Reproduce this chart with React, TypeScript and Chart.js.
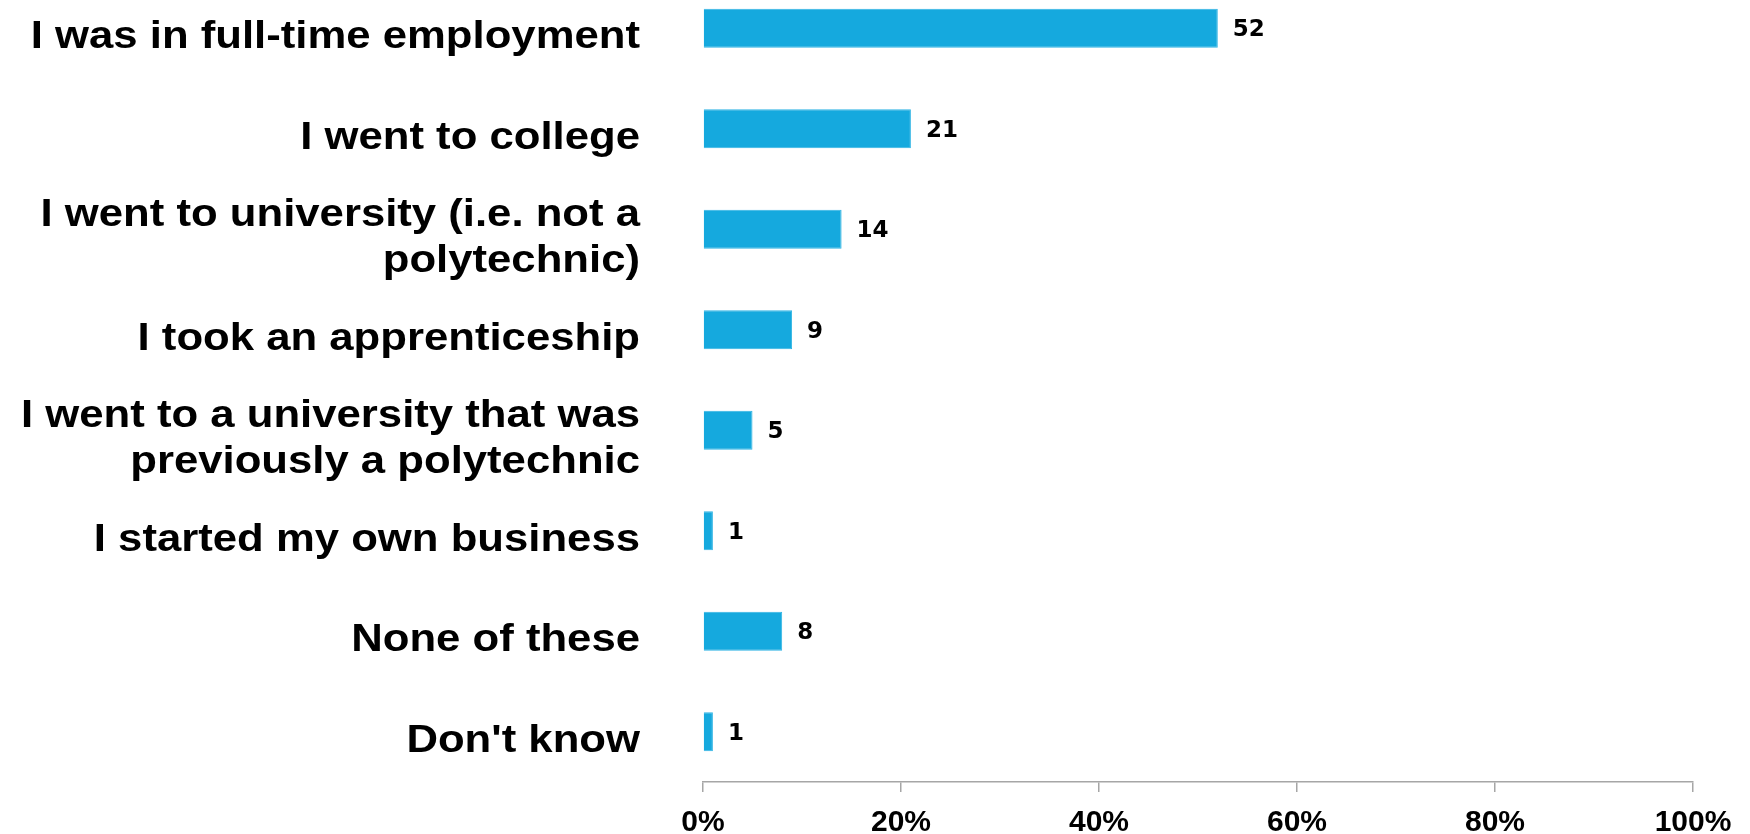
import React, { useEffect, useRef } from "react";
import { Chart, registerables } from "chart.js";

Chart.register(...registerables);

const categories: (string | string[])[] = [
  "I was in full-time employment",
  "I went to college",
  ["I went to university (i.e. not a", "polytechnic)"],
  "I took an apprenticeship",
  ["I went to a university that was", "previously a polytechnic"],
  "I started my own business",
  "None of these",
  "Don't know",
];
const values: number[] = [52, 21, 14, 9, 5, 1, 8, 1];
const xTicks: number[] = [0, 20, 40, 60, 80, 100];

const BAR_COLOR = "#15A9DE";
const AXIS_COLOR = "#A6A6A6";

const valueLabelPlugin = {
  id: "valueLabels",
  afterDatasetsDraw(chart: any) {
    const ctx = chart.ctx;
    const meta = chart.getDatasetMeta(0);
    ctx.save();
    ctx.fillStyle = "#000";
    ctx.font = "bold 23px 'DejaVu Sans'";
    ctx.textAlign = "left";
    ctx.textBaseline = "alphabetic";
    meta.data.forEach((bar: any, i: number) => {
      ctx.fillText(String(values[i]), bar.x + 15, bar.y + 8);
    });
    ctx.restore();
  },
};

const categoryLabelPlugin = {
  id: "categoryLabels",
  afterDraw(chart: any) {
    const ctx = chart.ctx;
    const yScale = chart.scales.y;
    const right = chart.chartArea.left - 63;
    ctx.save();
    ctx.fillStyle = "#000";
    ctx.font = "bold 39px 'Liberation Sans', Arial";
    ctx.textAlign = "right";
    ctx.textBaseline = "alphabetic";
    categories.forEach((lab, i) => {
      const lines = Array.isArray(lab) ? lab : [lab];
      const yc = yScale.getPixelForTick(i);
      const n = lines.length;
      lines.forEach((line, j) => {
        const base = yc + 6 + 14 + (j - (n - 1) / 2) * 46;
        ctx.save();
        ctx.translate(right, base);
        ctx.scale(1.12, 1);
        ctx.fillText(line, 0, 0);
        ctx.restore();
      });
    });
    ctx.restore();
  },
};

export default function App() {
  const ref = useRef<HTMLCanvasElement | null>(null);
  useEffect(() => {
    if (!ref.current) return;
    const chart = new Chart(ref.current, {
      type: "bar",
      data: {
        labels: categories,
        datasets: [
          {
            data: values,
            backgroundColor: BAR_COLOR,
            borderColor: "#2FB4E4",
            borderWidth: 1,
            barPercentage: 0.39,
            categoryPercentage: 1,
          },
        ],
      },
      options: {
        indexAxis: "y",
        responsive: false,
        animation: false,
        devicePixelRatio: 1,
        layout: { padding: { top: 0, right: 57, left: 0, bottom: 0 } },
        plugins: { legend: { display: false }, tooltip: { enabled: false } },
        scales: {
          x: {
            min: 0,
            max: 100,
            afterBuildTicks: (scale: any) => {
              scale.ticks = xTicks.map((v) => ({ value: v }));
            },
            afterFit: (scale: any) => {
              scale.height = 60;
            },
            grid: {
              drawOnChartArea: false,
              drawTicks: true,
              tickLength: 10,
              color: AXIS_COLOR,
              lineWidth: 1.5,
            },
            border: { display: true, color: AXIS_COLOR, width: 1.5 },
            ticks: {
              padding: 13,
              maxRotation: 0,
              color: "#000",
              font: { family: "'Liberation Sans', Arial", size: 30, weight: "bold" },
              callback: (v: any) => v + "%",
            },
          },
          y: {
            afterFit: (scale: any) => {
              scale.width = 703;
              scale.paddingTop = 0;
              scale.paddingBottom = 0;
            },
            grid: { display: false, drawTicks: false },
            border: { display: false },
            ticks: { display: false, autoSkip: false },
          },
        },
      },
      plugins: [valueLabelPlugin, categoryLabelPlugin],
    } as any);
    return () => chart.destroy();
  }, []);

  return (
    <div
      style={{
        position: "fixed",
        left: 0,
        top: 0,
        width: 1750,
        height: 834,
        overflow: "hidden",
        background: "#fff",
      }}
    >
      <canvas
        ref={ref}
        width={1750}
        height={864}
        style={{ position: "absolute", left: 0, top: -22, width: 1750, height: 864 }}
      />
    </div>
  );
}
